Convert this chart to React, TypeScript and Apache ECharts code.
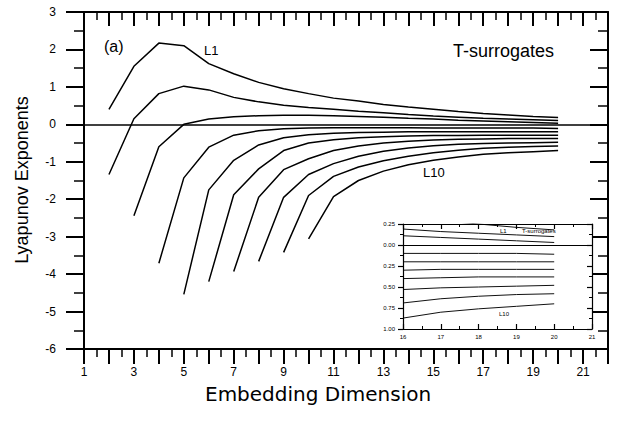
import React, { useEffect, useRef } from "react";
import * as echarts from "echarts";

// Lyapunov exponents L1..L10 vs embedding dimension (each curve starts at its own dimension, ends at 20)
const startDims = [2, 2, 3, 4, 5, 6, 7, 8, 9, 10];
const L1 = [0.4, 1.55, 2.17, 2.1, 1.62, 1.35, 1.12, 0.95, 0.82, 0.7, 0.62, 0.53, 0.46, 0.4, 0.34, 0.29, 0.25, 0.21, 0.18];
const L2 = [-1.34, 0.15, 0.82, 1.02, 0.92, 0.72, 0.6, 0.51, 0.45, 0.4, 0.35, 0.31, 0.26, 0.22, 0.19, 0.16, 0.14, 0.12, 0.1];
const L3 = [-2.44, -0.6, 0.0, 0.14, 0.2, 0.23, 0.24, 0.24, 0.23, 0.21, 0.19, 0.16, 0.14, 0.11, 0.09, 0.07, 0.05, 0.03];
const L4 = [-3.71, -1.43, -0.61, -0.29, -0.17, -0.12, -0.1, -0.09, -0.09, -0.09, -0.09, -0.1, -0.1, -0.1, -0.1, -0.1, -0.11];
const L5 = [-4.54, -1.75, -0.96, -0.55, -0.36, -0.28, -0.24, -0.22, -0.21, -0.2, -0.2, -0.2, -0.2, -0.2, -0.2, -0.2];
const L6 = [-4.2, -1.88, -1.19, -0.7, -0.5, -0.41, -0.36, -0.33, -0.31, -0.3, -0.3, -0.29, -0.29, -0.29, -0.29];
const L7 = [-3.93, -1.95, -1.21, -0.92, -0.7, -0.58, -0.5, -0.45, -0.42, -0.4, -0.39, -0.38, -0.38, -0.38];
const L8 = [-3.66, -1.95, -1.34, -1.05, -0.85, -0.72, -0.63, -0.57, -0.53, -0.51, -0.5, -0.49, -0.48];
const L9 = [-3.42, -1.9, -1.39, -1.14, -0.97, -0.85, -0.76, -0.69, -0.64, -0.61, -0.59, -0.58];
const L10 = [-3.06, -1.93, -1.5, -1.25, -1.08, -0.96, -0.87, -0.8, -0.76, -0.73, -0.7];
const curves = [L1, L2, L3, L4, L5, L6, L7, L8, L9, L10];

const mainXTicks = [1, 3, 5, 7, 9, 11, 13, 15, 17, 19, 21];
const mainYTicks = [-6, -5, -4, -3, -2, -1, 0, 1, 2, 3];
const insetXTicks = [16, 17, 18, 19, 20, 21];
const insetYTicks = [-1, -0.75, -0.5, -0.25, 0, 0.25];

const FONT = "'Liberation Sans', Arial, Helvetica, sans-serif";

export default function App() {
  const ref = useRef<HTMLDivElement>(null);
  useEffect(() => {
    if (!ref.current) return;
    const chart = echarts.init(ref.current, undefined, { renderer: "svg" });

    const pairs = (k: number) => curves[k].map((v, i) => [startDims[k] + i, v]);

    const black = "#000";
    const mainSeries = curves.map((_, k) => ({
      type: "line",
      xAxisIndex: 0,
      yAxisIndex: 0,
      data: pairs(k),
      showSymbol: false,
      symbol: "none",
      silent: true,
      lineStyle: { color: black, width: 1.5 },
      z: 3,
      markLine:
        k === 0
          ? {
              silent: true,
              symbol: ["none", "none"],
              label: { show: false },
              lineStyle: { color: black, width: 1.6, type: "solid" },
              data: [{ yAxis: 0 }],
            }
          : undefined,
    }));
    const insetSeries = curves.map((_, k) => ({
      type: "line",
      xAxisIndex: 2,
      yAxisIndex: 2,
      data: pairs(k).filter((p) => p[0] >= 16),
      showSymbol: false,
      symbol: "none",
      silent: true,
      clip: true,
      lineStyle: { color: "#111", width: 1 },
      z: 6,
      markLine:
        k === 0
          ? {
              silent: true,
              symbol: ["none", "none"],
              label: { show: false },
              lineStyle: { color: black, width: 1, type: "solid" },
              data: [{ yAxis: 0 }],
            }
          : undefined,
    }));

    const mainX = (pos: "bottom" | "top", labels: boolean) => ({
      type: "value",
      gridIndex: 0,
      position: pos,
      min: 1,
      max: 22,
      interval: 1,
      axisLine: { show: true, onZero: false, lineStyle: { color: black, width: 2 } },
      axisTick: { show: true, inside: pos === "top", length: pos === "top" ? 14 : 15, lineStyle: { color: black, width: 2 } },
      minorTick: { show: true, splitNumber: 2, length: 8, lineStyle: { color: black, width: 1.5 } },
      splitLine: { show: false },
      minorSplitLine: { show: false },
      axisLabel: {
        show: labels,
        margin: 17,
        color: black,
        fontSize: 12,
        fontFamily: FONT,
        formatter: (v: number) => (mainXTicks.includes(v) ? String(v) : ""),
      },
    });
    const mainY = (pos: "left" | "right", labels: boolean) => ({
      type: "value",
      gridIndex: 0,
      position: pos,
      min: -6,
      max: 3,
      interval: 1,
      axisLine: { show: true, onZero: false, lineStyle: { color: black, width: 2 } },
      axisTick: { show: true, inside: pos === "right", length: 18, lineStyle: { color: black, width: 2 } },
      minorTick: { show: true, splitNumber: 2, length: 10, lineStyle: { color: black, width: 1.5 } },
      splitLine: { show: false },
      axisLabel: {
        show: labels,
        margin: 28,
        color: black,
        fontSize: 12,
        fontFamily: FONT,
        formatter: (v: number) => (mainYTicks.includes(v) ? String(v) : ""),
      },
    });
    const insetX = (pos: "bottom" | "top", labels: boolean) => ({
      type: "value",
      gridIndex: 1,
      position: pos,
      min: 16,
      max: 21,
      interval: 1,
      axisLine: { show: true, onZero: false, lineStyle: { color: black, width: 1.2 } },
      axisTick: { show: true, inside: true, length: 5, lineStyle: { color: black, width: 1.2 } },
      minorTick: { show: true, splitNumber: 2, length: 3, lineStyle: { color: black, width: 1 } },
      splitLine: { show: false },
      axisLabel: {
        show: labels,
        margin: 5,
        color: black,
        fontSize: 6,
        fontFamily: FONT,
        formatter: (v: number) => (insetXTicks.includes(v) ? String(v) : ""),
      },
    });
    const insetY = (pos: "left" | "right", labels: boolean) => ({
      type: "value",
      gridIndex: 1,
      position: pos,
      min: -1,
      max: 0.25,
      interval: 0.25,
      axisLine: { show: true, onZero: false, lineStyle: { color: black, width: 1.2 } },
      axisTick: { show: true, inside: pos === "right", length: 5, lineStyle: { color: black, width: 1.2 } },
      minorTick: { show: true, splitNumber: 2, length: 3, lineStyle: { color: black, width: 1 } },
      splitLine: { show: false },
      axisLabel: {
        show: labels,
        margin: 8,
        color: black,
        fontSize: 6,
        fontFamily: FONT,
        formatter: (v: number) =>
          insetYTicks.some((t) => Math.abs(t - v) < 1e-9) ? Math.abs(v).toFixed(2) : "",
      },
    });

    chart.setOption({
      animation: false,
      backgroundColor: "#fff",
      grid: [
        { left: 84, right: 22, top: 12, bottom: 76 },
        { left: 403, width: 189, top: 224, height: 105, show: true, backgroundColor: "#fff", borderWidth: 0, z: 5 },
      ],
      xAxis: [mainX("bottom", true), mainX("top", false), { ...insetX("bottom", true), z: 7 }, { ...insetX("top", false), z: 7 }],
      yAxis: [mainY("left", true), mainY("right", false), { ...insetY("left", true), z: 7 }, { ...insetY("right", false), z: 7 }],
      series: [...mainSeries, ...insetSeries],
      graphic: [
        { type: "text", left: 104, top: 38, style: { text: "(a)", font: `16px ${FONT}`, fill: black } },
        { type: "text", left: 204, top: 44, style: { text: "L1", font: `13px ${FONT}`, fill: black } },
        { type: "text", left: 453, top: 42, style: { text: "T-surrogates", font: `18px ${FONT}`, fill: black } },
        { type: "text", left: 423, top: 166, style: { text: "L10", font: `13px ${FONT}`, fill: black } },
        { type: "text", left: 500, top: 228, z: 20, style: { text: "L1", font: `6px ${FONT}`, fill: black } },
        { type: "text", left: 522, top: 228, z: 20, style: { text: "T-surrogates", font: `6px ${FONT}`, fill: black } },
        { type: "text", left: 499, top: 311, z: 20, style: { text: "L10", font: `6px ${FONT}`, fill: black } },
        {
          type: "text",
          left: 205,
          top: 384,
          style: { text: "Embedding Dimension", font: `20px 'DejaVu Sans', ${FONT}`, fill: black },
        },
        {
          type: "text",
          x: 22,
          y: 180,
          rotation: Math.PI / 2,
          style: {
            text: "Lyapunov Exponents",
            font: `18px ${FONT}`,
            fill: black,
            align: "center",
            verticalAlign: "middle",
          },
        },
      ],
    });
    return () => chart.dispose();
  }, []);
  return <div ref={ref} style={{ position: "absolute", left: 0, top: 0, width: 630, height: 425 }} />;
}
